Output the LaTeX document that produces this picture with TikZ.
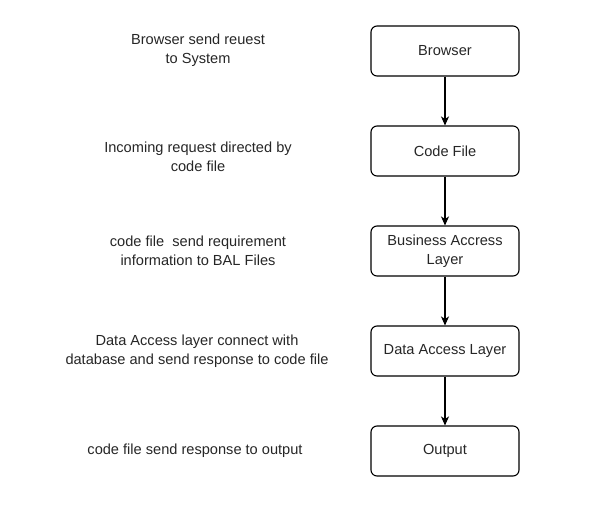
\documentclass[tikz,border=0pt]{standalone}
\usepackage{fontspec}
\setmainfont{Liberation Sans}
\usetikzlibrary{arrows.meta}
\begin{document}
\begin{tikzpicture}[x=1pt,y=-1pt,
  box/.style={draw=black, line width=1.1pt, rounded corners=6pt, minimum width=148pt, minimum height=50pt, align=center, inner sep=2pt, font=\fontsize{14.6}{18.5}\selectfont, text=black!85},
  lbl/.style={align=center, font=\fontsize{14.6}{18.5}\selectfont, text=black!85},
  conn/.style={draw=black, line width=1.1pt, -{Stealth[length=9pt,width=8pt,inset=2.5pt]}}]
\useasboundingbox (0,0) rectangle (600,509);
\node[box] (browser) at (445,51) {Browser};
\node[box] (code) at (445,151) {Code File};
\node[box] (bal) at (445,251) {Business Accress\\Layer};
\node[box] (dal) at (445,351) {Data Access Layer};
\node[box] (out) at (445,451) {Output};
\draw[conn] (browser) -- (code);
\draw[conn] (code) -- (bal);
\draw[conn] (bal) -- (dal);
\draw[conn] (dal) -- (out);
\node[lbl] (l1) at (198,50) {Browser send reuest\\to System};
\node[lbl] (l2) at (198,157) {Incoming request directed by\\code file};
\node[lbl] (l3) at (198,251) {code file\ \ send requirement\\information to BAL Files};
\node[lbl] (l4) at (197,351) {Data Access layer connect with\\database and send response to code file};
\node[lbl] (l5) at (195,451) {code file send response to output};
\end{tikzpicture}
\end{document}
